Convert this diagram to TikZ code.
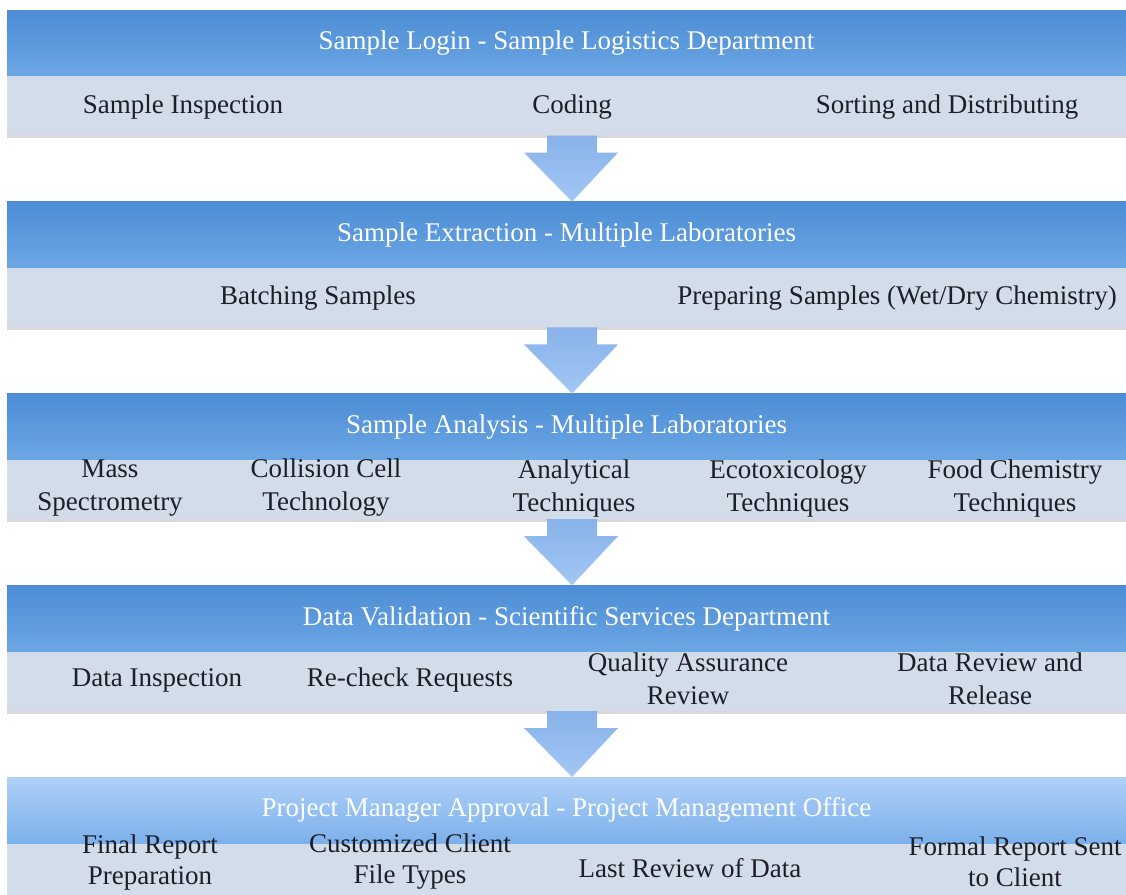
\documentclass[tikz,border=0pt]{standalone}
\usepackage{fontspec}
\setmainfont{Liberation Serif}
\usepackage{tikz}
\usetikzlibrary{positioning}
\usetikzlibrary{calc}
\usetikzlibrary{shadows}
\definecolor{headtop}{RGB}{76,141,212}
\definecolor{headbot}{RGB}{108,166,228}
\definecolor{lasttop}{RGB}{174,208,247}
\definecolor{lastbot}{RGB}{124,176,235}
\definecolor{barfill}{RGB}{211,221,233}
\definecolor{arrtop}{RGB}{136,178,233}
\definecolor{arrbot}{RGB}{162,199,245}
\definecolor{itemtext}{RGB}{28,30,40}
\tikzstyle{stage} = [rectangle, minimum width=1119pt, minimum height=66pt, inner sep=0pt, top color=headtop, bottom color=headbot, text=white, font=\fontsize{27}{30}\selectfont]
\tikzstyle{bar} = [rectangle, minimum width=1119pt, minimum height=59pt, inner sep=0pt, fill=barfill, drop shadow={shadow xshift=0pt, shadow yshift=-3pt, opacity=0.3}]
\tikzstyle{task} = [align=center, text=itemtext, inner sep=0pt, font=\fontsize{27}{33}\selectfont]
\tikzstyle{flow} = [top color=arrtop, bottom color=arrbot]
% block arrow from a bar down to the next header
\newcommand{\flowarrow}[2]{%
  \path[flow] ($(#1.south)+(-19.5,0)$) -- ($(#1.south)+(30.5,0)$)
    -- ($(#2.north)+(30.5,-49)$) -- ($(#2.north)+(51.5,-49)$)
    -- ($(#2.north)+(5.5,0)$) -- ($(#2.north)+(-42.5,-49)$)
    -- ($(#2.north)+(-19.5,-49)$) -- cycle;}

\begin{document}
\begin{tikzpicture}[x=1pt, y=-1pt]
\fill[white] (0,0) rectangle (1126,894);
\useasboundingbox (0,0) rectangle (1126,894);

\node (H1) [stage] at (566.5,43) {Sample Login - Sample Logistics Department};
\node (B1) [bar, below=0pt of H1] {};
\node (H2) [stage, below=66pt of B1] {Sample Extraction - Multiple Laboratories};
\node (B2) [bar, below=0pt of H2] {};
\node (H3) [stage, below=66pt of B2] {Sample Analysis - Multiple Laboratories};
\node (B3) [bar, below=0pt of H3] {};
\node (H4) [stage, below=66pt of B3] {Data Validation - Scientific Services Department};
\node (B4) [bar, below=0pt of H4] {};
\node (H5) [stage, top color=lasttop, bottom color=lastbot, below=66pt of B4] {Project Manager Approval - Project Management Office};
\node (B5) [bar, below=0pt of H5] {};

% sample login
\node (T11) [task] at (183,107) {Sample Inspection};
\node (T12) [task] at (572,107) {Coding};
\node (T13) [task] at (947,107) {Sorting and Distributing};
% sample extraction
\node (T21) [task] at (318,298) {Batching Samples};
\node (T22) [task] at (897,298) {Preparing Samples (Wet/Dry Chemistry)};
% sample analysis
\node (T31) [task] at (110,488) {Mass\\Spectrometry};
\node (T32) [task] at (326,488) {Collision Cell\\Technology};
\node (T33) [task] at (574,488) {Analytical\\Techniques};
\node (T34) [task] at (788,488) {Ecotoxicology\\Techniques};
\node (T35) [task] at (1015,488) {Food Chemistry\\Techniques};
% data validation
\node (T41) [task] at (157,680) {Data Inspection};
\node (T42) [task] at (410,680) {Re-check Requests};
\node (T43) [task] at (688,678.5) {Quality Assurance\\Review};
\node (T44) [task] at (990,678.5) {Data Review and\\Release};
% project manager approval
\node (T51) [task, font=\fontsize{27}{31}\selectfont] at (150,862) {Final Report\\Preparation};
\node (T52) [task, font=\fontsize{27}{31}\selectfont] at (410,862) {Customized Client\\File Types};
\node (T53) [task] at (690,868) {Last Review of Data};
\node (T54) [task, font=\fontsize{27}{31}\selectfont] at (1015,862) {Formal Report Sent\\to Client};

\flowarrow{B1}{H2}
\flowarrow{B2}{H3}
\flowarrow{B3}{H4}
\flowarrow{B4}{H5}
\end{tikzpicture}
\end{document}
